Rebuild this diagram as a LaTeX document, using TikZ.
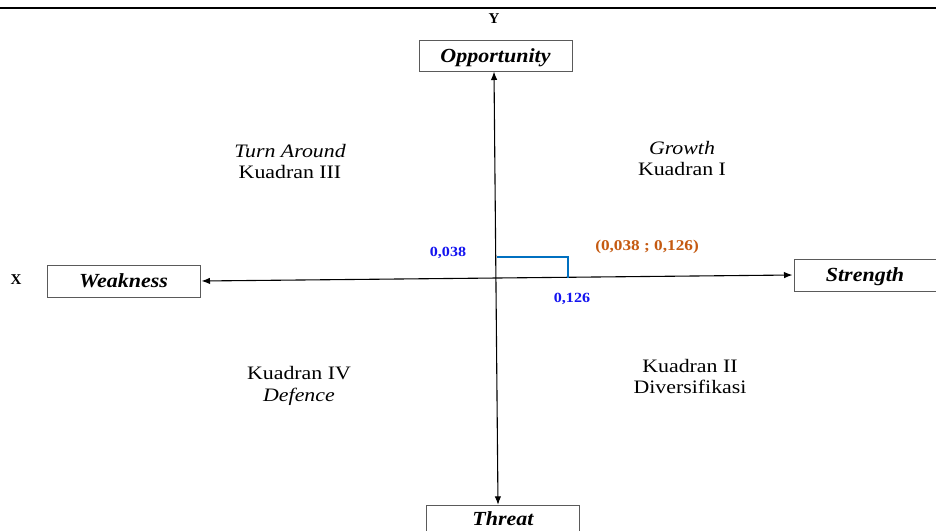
\documentclass[tikz,border=0pt]{standalone}
\usepackage{fontspec}
\setmainfont{Liberation Serif}
\newfontfamily\qfont[FakeStretch=1.15]{Liberation Serif}
\newfontfamily\boxfont[FakeStretch=1.1]{Liberation Serif}
\usetikzlibrary{arrows.meta,calc}
\definecolor{numblue}{RGB}{20,20,240}
\definecolor{lineblue}{RGB}{0,112,192}
\definecolor{ptorange}{RGB}{197,90,17}
\definecolor{boxgray}{RGB}{90,90,90}
\tikzset{
  axisbox/.style={draw=boxgray,line width=1pt,inner sep=0pt,
    font=\boxfont\fontsize{20}{24}\selectfont\bfseries\itshape,
    text height=13.2pt,text depth=0pt},
  openbox/.style={inner sep=0pt,
    font=\boxfont\fontsize{20}{24}\selectfont\bfseries\itshape,
    text height=14pt,text depth=0pt},
  qlabel/.style={anchor=base,inner sep=0pt,font=\qfont\fontsize{19}{22}\selectfont},
  qitalic/.style={qlabel,font=\qfont\fontsize{19}{22}\selectfont\itshape},
  numlabel/.style={inner sep=0pt,text=numblue,text height=9.5pt,text depth=0pt,
    font=\qfont\fontsize{14}{16}\selectfont\bfseries},
  ptlabel/.style={inner sep=0pt,text=ptorange,text height=10pt,text depth=0pt,
    font=\qfont\fontsize{15}{17}\selectfont\bfseries},
  axlabel/.style={inner sep=0pt,text height=10pt,text depth=0pt,
    font=\fontsize{15}{17}\selectfont\bfseries},
  axisline/.style={line width=1.1pt,{Latex[length=8.5pt,width=6.5pt]}-{Latex[length=8.5pt,width=6.5pt]}}
}
\begin{document}
\begin{tikzpicture}[x=1pt,y=-1pt]
\clip (0,0) rectangle (936,530);
\fill[white] (0,0) rectangle (936,530);
% top rule
\coordinate (tl) at (0,8);
\coordinate (tr) at (936,8);
\draw[line width=1.5pt] (tl) -- (tr);
% axis boxes
\node[axisbox,minimum width=153pt,minimum height=31pt] (opp) at (495.5,55.5) {Opportunity};
\node[axisbox,minimum width=153pt,minimum height=32pt] (weak) at (123.5,281) {Weakness};
\node[axisbox,minimum width=142pt,minimum height=32pt] (str) at (865,275) {Strength};
\node[openbox,minimum width=152pt,minimum height=24pt] (thr) at (503,518) {Threat};
\draw[boxgray,line width=1pt] ($(thr.south west)+(0,2)$) -- (thr.north west) -- (thr.north east) -- ($(thr.south east)+(0,2)$);
% axis labels
\node[axlabel] (ylab) at (494,18) {Y};
\node[axlabel] (xlab) at (16,279) {X};
% axes
\coordinate (vtop) at ($(opp.south)+(-1.5,0)$);
\coordinate (vbot) at ($(thr.north)+(-5,-1)$);
\draw[axisline] (vtop) -- (vbot);
\coordinate (hl) at ($(weak.east)+(1,0)$);
\coordinate (hr) at ($(str.west)+(-1,0)$);
\draw[axisline] (hl) -- (hr);
% point marker
\coordinate (p0) at (497,257);
\coordinate (p1) at (568,257);
\coordinate (p2) at (568,277.5);
\draw[lineblue,line width=2.5pt] (p0) -- (p1) -- (p2);
\node[numlabel] (ny) at (448,252) {0,038};
\node[numlabel] (nx) at (572,298) {0,126};
\node[ptlabel] (pt) at (647,245) {(0,038 ; 0,126)};
% quadrant labels
\node[qitalic] (q3a) at (290,157) {Turn Around};
\node[qlabel] (q3b) at (290,178) {Kuadran III};
\node[qitalic] (q1a) at (682,154) {Growth};
\node[qlabel] (q1b) at (682,175) {Kuadran I};
\node[qlabel] (q4a) at (299,379) {Kuadran IV};
\node[qitalic] (q4b) at (299,401) {Defence};
\node[qlabel] (q2a) at (690,372) {Kuadran II};
\node[qlabel] (q2b) at (690,393) {Diversifikasi};
\end{tikzpicture}
\end{document}
